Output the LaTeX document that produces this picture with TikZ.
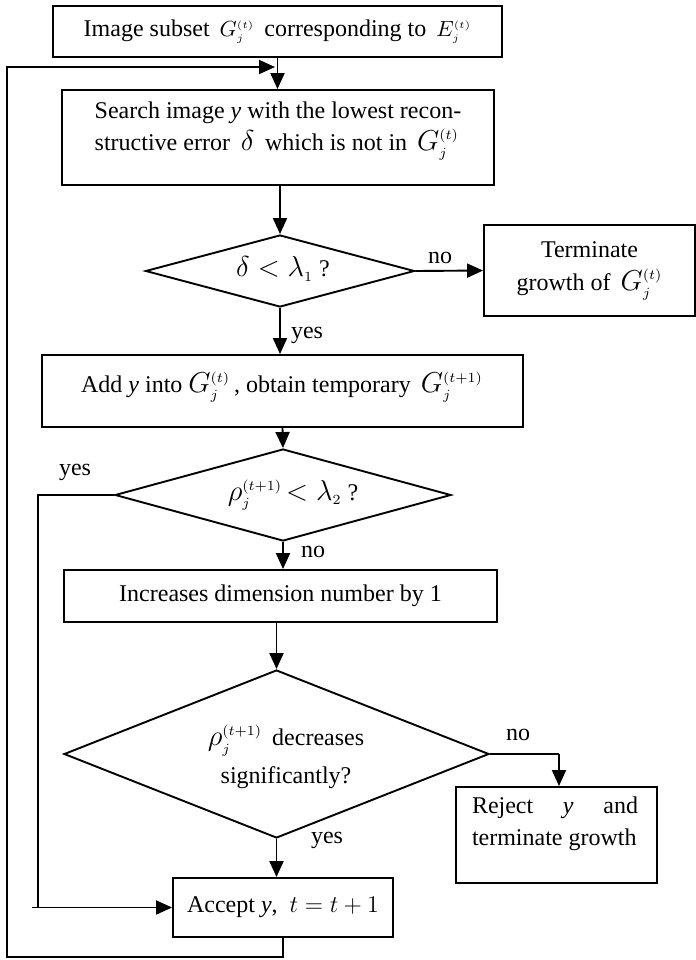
\documentclass[tikz,border=0pt]{standalone}
\usepackage{fontspec}
\setmainfont{Liberation Serif}
\usetikzlibrary{shapes.geometric,arrows.meta}
\newcommand{\mbig}[1]{{\fontsize{14}{16}\selectfont$#1$}}
\newcommand{\Gsub}[1]{\mbig{G^{\scriptscriptstyle(#1)}_{\scriptscriptstyle j}}}
\newcommand{\Rsub}[1]{\mbig{\rho^{\scriptscriptstyle(#1)}_{\scriptscriptstyle j}}}
\begin{document}
\begin{tikzpicture}[x=0.5pt,y=-0.5pt,line width=0.95pt,
  font=\fontsize{12}{16}\selectfont,
  >={Triangle[length=8pt,width=7pt]},
  box/.style={draw,rectangle,inner sep=0pt},
  dec/.style={draw,diamond,inner sep=0pt},
  lbl/.style={inner sep=0pt}]
\useasboundingbox (0,0) rectangle (696,960);
% nodes
\node[box,minimum width=224.5pt,minimum height=25.5pt] (b1) at (277.5,31.5)
  {Image subset \,{\fontsize{11}{14}\selectfont$G^{\scriptscriptstyle(t)}_{\scriptscriptstyle j}$}\, corresponding to \,{\fontsize{11}{14}\selectfont$E^{\scriptscriptstyle(t)}_{\scriptscriptstyle j}$}};
\node[box,minimum width=216pt,minimum height=47.5pt] (b2) at (278,137.5) {};
\node[lbl,align=left] (b2t) at (278,131)
  {Search image \textit{y} with the lowest recon-\\structive error \mbig{\,\delta\,} which is not in \,\Gsub{t}};
\node[dec,minimum width=134.5pt,minimum height=36pt] (d1) at (280,271) {};
\node[lbl] (d1t) at (283,269) {{\fontsize{15}{16}\selectfont$\delta<\lambda_{\scriptscriptstyle 1}$} ?};
\node[box,minimum width=105.5pt,minimum height=45.5pt,align=center,font=\fontsize{12}{16.5}\selectfont] (term) at (589.5,270.5)
  {Terminate\\growth of \,\Gsub{t}};
\node[box,minimum width=240.5pt,minimum height=36pt] (b3) at (282.5,391) {};
\node[lbl] (b3t) at (282,387) {Add \textit{y} into \Gsub{t}\,, obtain temporary \,\Gsub{t+1}};
\node[dec,minimum width=168pt,minimum height=46pt] (d2) at (283,495) {};
\node[lbl] (d2t) at (293,495) {\Rsub{t+1}\,{\fontsize{14}{16}\selectfont$<\lambda_{\scriptscriptstyle 2}$} ?};
\node[box,minimum width=216.5pt,minimum height=26pt] (b4) at (280.5,596) {Increases dimension number by 1};
\node[dec,minimum width=212.5pt,minimum height=84pt] (d3) at (276.5,754) {};
\node[lbl,align=center] (d3t) at (286,757) {\Rsub{t+1}\, decreases\\[3pt]significantly?};
\node[box,minimum width=100.5pt,minimum height=48pt] (rej) at (556.5,835) {};
\node[lbl,align=left] (rejt) at (555,824) {\hbox to 83pt{Reject\hfill\textit{y}\hfill and}\\terminate growth};
\node[box,minimum width=110pt,minimum height=29.5pt] (acc) at (283,907.5) {Accept \textit{y},\ \ {\fontsize{12.5}{16}\selectfont$t=t+1$}};
% labels
\node[lbl] (no1) at (440,258) {no};
\node[lbl] (yes1) at (307,335) {yes};
\node[lbl] (yes2) at (75,472) {yes};
\node[lbl] (no2) at (313,552) {no};
\node[lbl] (no3) at (518,735) {no};
\node[lbl] (yes3) at (327,840) {yes};
% coordinates
\coordinate (lb) at (7,957);
\coordinate (lt) at (7,67);
\coordinate (le) at (275,67);
\coordinate (nc) at (559,754);
\coordinate (yc) at (38,495);
\coordinate (yb) at (38,907.5);
\coordinate (ys) at (32,907.5);
% connectors
\draw[->] (b1.south) -- (b1.south |- b2.north);
\draw[->] (d1.north |- b2.south) -- (d1.north);
\draw[->] (d1.east) -- (term.west);
\draw[->] (d1.south) -- (d1.south |- b3.north);
\draw[->] (b3.south) -- (d2.north);
\draw[->] (d2.south) -- (d2.south |- b4.north);
\draw[->] (d3.north |- b4.south) -- (d3.north);
\draw (d3.east) -- (nc);
\draw[->] (nc) -- (nc |- rej.north);
\draw[->] (d3.south) -- (d3.south |- acc.north);
\draw (d2.west) -- (yc) -- (yb);
\draw[->] (ys) -- (acc.west);
\draw[->] (acc.south) |- (lb) -- (lt) -- (le);
\end{tikzpicture}
\end{document}
